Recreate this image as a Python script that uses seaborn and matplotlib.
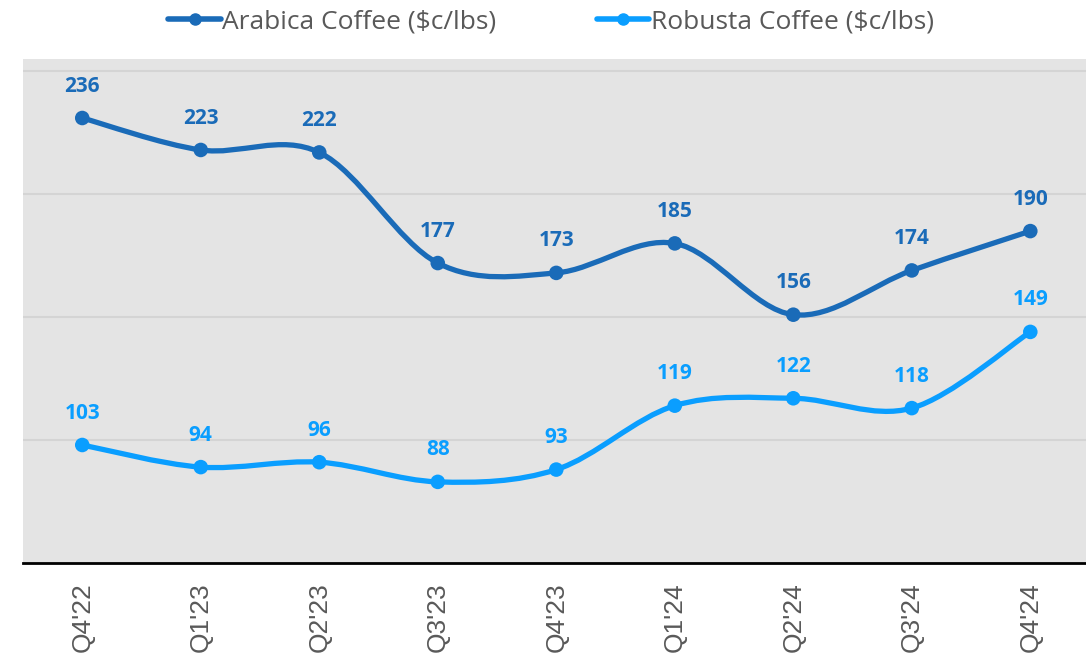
import numpy as np
import pandas as pd
import matplotlib
matplotlib.use("Agg")
import matplotlib.pyplot as plt
from matplotlib.path import Path
from matplotlib.patches import PathPatch
from matplotlib.lines import Line2D
import seaborn as sns

quarters = ["Q4'22", "Q1'23", "Q2'23", "Q3'23", "Q4'23", "Q1'24", "Q2'24", "Q3'24", "Q4'24"]
arabica = [236, 223, 222, 177, 173, 185, 156, 174, 190]
robusta = [103, 94, 96, 88, 93, 119, 122, 118, 149]

series_names = ["Arabica Coffee ($c/lbs)", "Robusta Coffee ($c/lbs)"]
colors = ["#1A6BB8", "#0A9EFF"]

df = pd.DataFrame({"quarter": quarters * 2,
                   "pos": list(range(len(quarters))) * 2,
                   "price": arabica + robusta,
                   "series": [series_names[0]] * len(quarters) + [series_names[1]] * len(quarters)})

sns.set_style("white")
plt.rcParams["font.family"] = ["Open Sans", "DejaVu Sans"]

fig = plt.figure(figsize=(10.86, 6.57), dpi=100)
ax = fig.add_axes([23 / 1086, 94 / 657, 1 - 23 / 1086, (563 - 59) / 657])
ax.set_facecolor("#E4E4E4")


def smooth_path(xs, ys):
    # excel-like smoothed line: catmull-rom converted to bezier segments
    pts = np.column_stack([xs, ys]).astype(float)
    n = len(pts)
    verts = [pts[0]]
    codes = [Path.MOVETO]
    for i in range(n - 1):
        p0 = pts[i - 1] if i > 0 else pts[i]
        p1 = pts[i]
        p2 = pts[i + 1]
        p3 = pts[i + 2] if i + 2 < n else pts[i + 1]
        c1 = p1 + (p2 - p0) / 6
        c2 = p2 - (p3 - p1) / 6
        verts += [c1, c2, p2]
        codes += [Path.CURVE4] * 3
    return Path(verts, codes)


for name, color in zip(series_names, colors):
    sub = df[df["series"] == name]
    ax.add_patch(PathPatch(smooth_path(sub["pos"], sub["price"]), fill=False,
                           edgecolor=color, linewidth=3.8, capstyle="round", zorder=3))

sns.scatterplot(data=df, x="pos", y="price", hue="series", palette=colors,
                s=110, edgecolor="none", legend=False, ax=ax, zorder=4)

for name, color in zip(series_names, colors):
    sub = df[df["series"] == name]
    for x, y in zip(sub["pos"], sub["price"]):
        ax.annotate(str(y), (x, y), xytext=(0, 23), textcoords="offset points",
                    ha="center", va="center", fontsize=15, fontweight="bold", color=color)

ax.set_xlim(-0.5, 8.47)
ax.set_ylim(55, 260)
ax.set_yticks([105, 155, 205, 255])
ax.set_yticklabels([])
ax.tick_params(axis="y", length=0)
ax.grid(axis="y", color="#D4D4D4", linewidth=1.5)
ax.set_axisbelow(True)

ax.set_xticks(range(len(quarters)))
ax.set_xticklabels(quarters, rotation=90, fontsize=19, color="#595959", family="Liberation Sans")
ax.tick_params(axis="x", length=0, pad=14)
ax.set_xlabel("")
ax.set_ylabel("")

for side in ["top", "left", "right"]:
    ax.spines[side].set_visible(False)
ax.spines["bottom"].set_color("black")
ax.spines["bottom"].set_linewidth(2)

handles = [Line2D([0], [0], color=c, linewidth=4, marker="o", markersize=8) for c in colors]
fig.legend(handles, series_names, loc="center", bbox_to_anchor=(0.5 + 8 / 1086, 1 - 22 / 657), ncol=2,
           frameon=False, fontsize=19, handlelength=2.0, handletextpad=0.05, columnspacing=3.8,
           labelcolor="#595959")

fig.savefig("out.png", dpi=100)
